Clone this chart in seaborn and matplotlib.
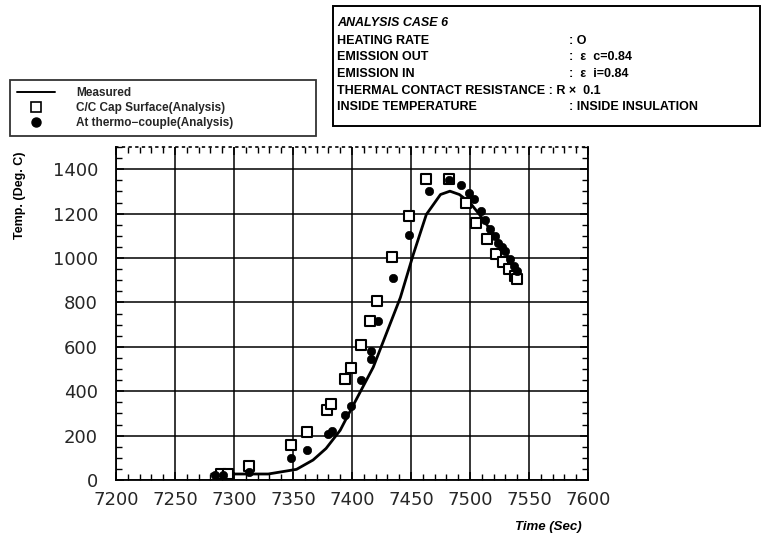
import matplotlib
matplotlib.use("Agg")
import matplotlib.pyplot as plt
from matplotlib.lines import Line2D
from matplotlib.patches import Rectangle
from matplotlib.ticker import MultipleLocator
import seaborn as sns
import pandas as pd

# Measured temperature history
measured_time = [7281, 7300, 7329, 7353, 7367, 7378, 7390, 7398, 7418, 7441, 7452,
                 7463, 7475, 7483, 7491, 7500, 7508, 7520, 7531, 7540]
measured_temp = [27, 27, 27, 48, 90, 142, 224, 306, 508, 822, 1017,
                 1196, 1286, 1301, 1286, 1249, 1196, 1107, 1017, 930]

# C/C cap surface (analysis)
cap_time = [7289, 7295, 7313, 7348, 7362, 7379, 7382, 7394, 7399, 7408, 7415, 7421,
            7434, 7448, 7463, 7482, 7497, 7505, 7514, 7522, 7528, 7533, 7538, 7540]
cap_temp = [25, 28, 63, 157, 217, 317, 341, 453, 504, 609, 718, 807,
            1006, 1189, 1354, 1356, 1250, 1159, 1084, 1017, 980, 950, 920, 905]

# Thermocouple location (analysis)
tc_time = [7284, 7291, 7313, 7348, 7362, 7380, 7383, 7394, 7399, 7408, 7416, 7416, 7422,
           7435, 7448, 7465, 7482, 7492, 7499, 7503, 7509, 7513, 7517, 7521, 7524, 7527,
           7530, 7534, 7537, 7540]
tc_temp = [22, 22, 37, 100, 135, 209, 222, 292, 332, 449, 546, 583, 718,
           909, 1102, 1301, 1350, 1331, 1294, 1265, 1211, 1170, 1129, 1100, 1069, 1050,
           1032, 995, 965, 942]

x_ticks = [7200, 7250, 7300, 7350, 7400, 7450, 7500, 7550, 7600]
y_ticks = [0, 200, 400, 600, 800, 1000, 1200, 1400]

legend_labels = ["Measured", "C/C Cap Surface(Analysis)", "At thermo\u2212couple(Analysis)"]

case_title = "ANALYSIS CASE 6"
case_keys = ["HEATING RATE", "EMISSION OUT", "EMISSION IN", "", "INSIDE TEMPERATURE"]
case_values = [": O", ":  \u03b5  c=0.84", ":  \u03b5  i=0.84", "", ": INSIDE INSULATION"]
case_full_line = "THERMAL CONTACT RESISTANCE : R \u00d7  0.1"

sns.set_style("white")

W, H = 764, 539
fig = plt.figure(figsize=(W / 100, H / 100), dpi=100)
ax = fig.add_axes([116 / W, 1 - 480 / H, (588 - 116) / W, (480 - 147) / H])

meas_df = pd.DataFrame({"t": measured_time, "T": measured_temp})
cap_df = pd.DataFrame({"t": cap_time, "T": cap_temp})
tc_df = pd.DataFrame({"t": tc_time, "T": tc_temp})

sns.lineplot(data=meas_df, x="t", y="T", ax=ax, color="black", lw=2.0,
             sort=False, zorder=3)
sns.scatterplot(data=cap_df, x="t", y="T", ax=ax, marker="s", s=55,
                facecolor="white", edgecolor="black", linewidth=1.5, zorder=4)
sns.scatterplot(data=tc_df, x="t", y="T", ax=ax, marker="o", s=36,
                color="black", edgecolor="black", linewidth=0.5, zorder=5)

ax.set_xlim(7200, 7600)
ax.set_ylim(0, 1500)
ax.set_xticks(x_ticks)
ax.set_yticks(y_ticks)
ax.xaxis.set_minor_locator(MultipleLocator(10))
ax.yaxis.set_minor_locator(MultipleLocator(50))
ax.grid(True, which="major", color="black", lw=1.1)
ax.set_axisbelow(True)
ax.tick_params(which="both", direction="in", top=True, right=True,
               bottom=True, left=True, color="black")
ax.tick_params(which="major", length=6, width=1.1)
ax.tick_params(which="minor", length=4, width=1.0)
ax.tick_params(axis="x", which="major", labelsize=13, pad=8)
ax.tick_params(axis="y", which="major", labelsize=13, pad=13)
ax.set_xlabel("")
ax.set_ylabel("")
for side in ["left", "right", "bottom"]:
    ax.spines[side].set_color("black")
    ax.spines[side].set_linewidth(1.3)
ax.spines["top"].set_color("black")
ax.spines["top"].set_linewidth(1.2)
ax.spines["top"].set_linestyle((0, (1, 3)))

lab_font = dict(family="Liberation Sans", weight="bold", color="black")
fig.text(20 / W, 1 - 195 / H, "Temp. (Deg. C)", rotation=90, ha="center",
         va="center", fontsize=9, **lab_font)
fig.text(582 / W, 1 - 527 / H, "Time (Sec)", ha="right", va="center",
         fontsize=9.5, style="italic", **lab_font)

# Legend
handles = [
    Line2D([], [], color="black", lw=1.4),
    Line2D([], [], marker="s", ls="none", markersize=7, markerfacecolor="white",
           markeredgecolor="black", markeredgewidth=1.2),
    Line2D([], [], marker="o", ls="none", markersize=6.5, color="black"),
]
leg = fig.legend(handles, legend_labels, loc="upper left",
                 bbox_to_anchor=(10 / W, 1 - 137 / H, (316 - 10) / W, (137 - 80) / H),
                 mode="expand", frameon=True, fancybox=False, edgecolor="black",
                 prop=dict(family="Liberation Sans", weight="bold", size=8.5),
                 handlelength=3.2, handletextpad=1.8, labelspacing=0.25,
                 borderpad=0.6, borderaxespad=0)
leg.get_frame().set_linewidth(1.3)

# Case description box
fig.patches.append(Rectangle((333 / W, 1 - 126 / H), (760 - 333) / W, (126 - 6) / H,
                             transform=fig.transFigure, fill=False,
                             edgecolor="black", lw=1.4))
box_font = dict(family="Liberation Sans", weight="bold", fontsize=9,
                color="black", va="center")
fig.text(337 / W, 1 - 23 / H, case_title, style="italic", **box_font)
rows_y = [40.7, 57.3, 74, 90.7, 106.7]
for key, val, yy in zip(case_keys, case_values, rows_y):
    if key:
        fig.text(337 / W, 1 - yy / H, key, **box_font)
        fig.text(569 / W, 1 - yy / H, val, **box_font)
fig.text(337 / W, 1 - rows_y[3] / H, case_full_line, **box_font)

fig.savefig("out.png", dpi=100)
